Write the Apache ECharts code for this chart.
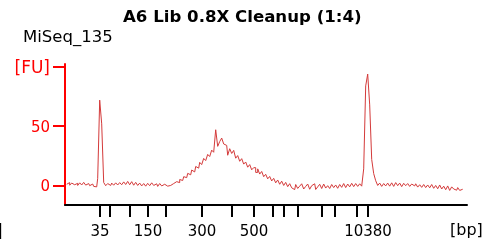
<!DOCTYPE html>
<html>
<head>
<meta charset="utf-8">
<title>A6 Lib 0.8X Cleanup (1:4)</title>
<script src="https://cdn.jsdelivr.net/npm/echarts@6/dist/echarts.min.js"></script>
<style>
  html, body { margin: 0; padding: 0; background: #fff; }
  #chart { width: 495px; height: 246px; }
</style>
</head>
<body>
<div id="chart"></div>
<script>
// ladder sizes and their migration times (s)
const ladderSizes = [35, 50, 100, 150, 200, 300, 400, 500, 600, 700, 1000, 2000, 3000, 7000, 10380]
const ladderTimes = [46.8, 48.8, 52.8, 56.4, 60.0, 67.2, 73.2, 77.6, 81.4, 83.6, 86.4, 91.2, 93.8, 98.2, 100.4]
const labelledSizes = [35, 150, 300, 500, 10380]

// y ticks
const yTickValues = [0, 50, 100]
const yTickLabels = ['0', '50', '{fu|[FU]}']

// electropherogram samples (FU), one every sampleStep seconds
const sampleStart = 40.14
const sampleStep = 0.4
const fu = [
  1.0, 2.4, 0.2, 2.0, 0.6, 1.8, 0.0, 2.2, 0.4, 2.6,
  0.3, 1.6, -0.2, 1.2, -0.8, -1.2, 6, 72, 52, 2.5,
  -0.2, 1.6, 0.0, 2.0, 0.2, 2.2, 0.4, 2.4, 0.6, 3.0,
  0.8, 3.4, 0.6, 3.2, 0.2, 2.6, 0.0, 2.0, -0.4, 1.6,
  -0.6, 1.8, -0.2, 2.2, 0.0, 1.4, -0.8, 1.6, -0.4, 1.0,
  -0.6, 0.8, 0.0, 1.6, 1.0, 3.2, 2.4, 5.0, 4.2, 7.4,
  6.6, 10.2, 9.0, 13.0, 11.4, 16.0, 14.6, 19.5, 17.6, 22.8,
  21.0, 26.2, 24.4, 29.8, 28.0, 47.0, 33.0, 37.0, 40.0, 35.0,
  33.8, 25.5, 31.0, 27.0, 29.6, 23.0, 25.2, 20.4, 22.6, 18.0,
  19.8, 15.4, 17.6, 13.2, 15.0, 11.0, 14.0, 9.6, 11.8, 7.4,
  9.4, 5.6, 7.6, 3.8, 6.0, 2.2, 4.6, 1.0, 3.6, 0.0,
  2.6, -1.0, 1.5, -2.0, -3.5, 0.8, -2.5, -0.6, 1.4, -3.0,
  -0.8, 1.2, -3.2, -0.2, 1.4, -3.4, -1.2, 1.0, -2.6, 1.2,
  -2.2, -0.2, -2.6, 0.8, -1.8, 0.4, -2.4, 0.8, -1.6, 1.6,
  -1.8, 1.2, -1.2, 1.8, -1.0, 1.6, -0.8, 1.4, -0.6, 14,
  84, 94, 68, 22, 10, 4, 0.0, 2.0, -0.8, 1.6,
  -0.4, 2.0, -0.6, 2.2, -0.8, 2.4, -0.2, 2.0, -1.0, 1.8,
  -0.2, 1.6, -0.8, 1.2, -0.4, 1.4, -1.4, 0.6, -1.6, 0.8,
  -1.8, 0.4, -2.0, 0.8, -2.4, 0.0, -2.8, 0.4, -3.0, -0.6,
  -3.6, -0.4, -4.2, -1.2, -3.0, -4.0, -1.8, -4.2, -3.2
]

const font = 'DejaVu Sans'
const chart = echarts.init(document.getElementById('chart'), null, { renderer: 'canvas' })

const labelledTimes = labelledSizes.map(s => ladderTimes[ladderSizes.indexOf(s)])

chart.setOption({
  animation: false,
  backgroundColor: '#fff',
  grid: {
    left: 65,
    right: 28,
    top: 64,
    bottom: 41
  },
  graphic: [
    {
      type: 'text',
      left: 123,
      top: 9,
      style: { text: 'A6 Lib 0.8X Cleanup (1:4)', font: 'bold 16.6px "DejaVu Sans"', fill: '#000' }
    },
    {
      type: 'text',
      left: 23,
      top: 29,
      style: { text: 'MiSeq_135', font: '16.5px "DejaVu Sans"', fill: '#000' }
    },
    {
      type: 'text',
      left: 450,
      top: 223,
      style: { text: '[bp]', font: '16px "DejaVu Sans"', fill: '#000' }
    },
    {
      type: 'text',
      left: -2,
      top: 224,
      style: { text: '|', font: '15px "DejaVu Sans"', fill: '#000' }
    }
  ],
  xAxis: {
    type: 'value',
    min: 39.8,
    max: 120.2,
    axisLine: { onZero: false, lineStyle: { color: '#000', width: 2 } },
    axisTick: {
      show: true,
      inside: false,
      length: 12,
      customValues: ladderTimes,
      lineStyle: { color: '#000', width: 2 }
    },
    axisLabel: {
      customValues: labelledTimes,
      margin: 20,
      color: '#000',
      fontFamily: font,
      fontSize: 15,
      formatter: v => String(ladderSizes[ladderTimes.indexOf(v)])
    },
    splitLine: { show: false }
  },
  yAxis: {
    type: 'value',
    min: -16.5,
    max: 102.5,
    axisLine: { show: true, lineStyle: { color: '#f00', width: 2 } },
    axisTick: {
      show: true,
      length: 12,
      customValues: yTickValues,
      lineStyle: { color: '#f00', width: 2 }
    },
    axisLabel: {
      customValues: yTickValues,
      margin: 15,
      color: '#f00',
      fontFamily: font,
      fontSize: 15,
      padding: [3, 0, 0, 0],
      formatter: v => yTickLabels[yTickValues.indexOf(v)],
      rich: {
        fu: { color: '#f00', fontFamily: font, fontSize: 17 }
      }
    },
    splitLine: { show: false }
  },
  series: [
    {
      type: 'line',
      step: 'middle',
      data: fu.map((v, i) => [sampleStart + i * sampleStep, v]),
      showSymbol: false,
      lineStyle: { color: '#d43a3a', width: 1 },
      clip: true
    }
  ]
})
</script>
</body>
</html>
